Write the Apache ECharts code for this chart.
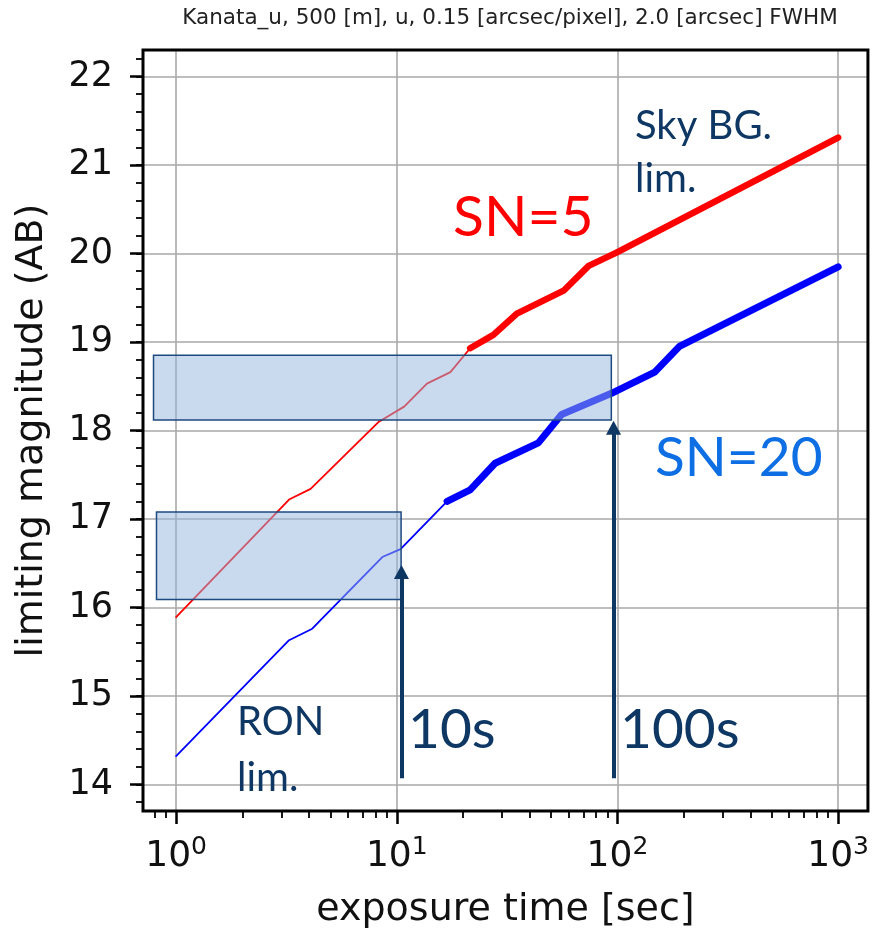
<!DOCTYPE html>
<html>
<head>
<meta charset="utf-8">
<script src="https://cdn.jsdelivr.net/npm/echarts@6/dist/echarts.min.js"></script>
<style>
  html, body { margin: 0; padding: 0; background: #ffffff; }
  #chart { width: 872px; height: 934px; }
</style>
</head>
<body>
<div id="chart"></div>
<script>
// Limiting magnitude vs exposure time, Kanata u-band.
// SN=5 curve: read-noise limited part (thin) and sky-background limited part (thick)
const sn5ThinTime  = [1, 3.25, 4.07, 8.3, 10.8, 13.7, 17.5, 21.5];
const sn5ThinMag   = [15.89, 17.22, 17.34, 18.10, 18.27, 18.53, 18.66, 18.93];
const sn5ThickTime = [21.5, 27.4, 35, 57, 74, 99, 1000];
const sn5ThickMag  = [18.93, 19.08, 19.32, 19.58, 19.86, 20.01, 21.31];

// SN=20 curve
const sn20ThinTime  = [1, 3.25, 4.14, 8.6, 10.4, 16.9];
const sn20ThinMag   = [14.32, 15.63, 15.76, 16.57, 16.66, 17.20];
const sn20ThickTime = [16.9, 21.5, 27.9, 43.8, 55.8, 94, 147.5, 191, 1000];
const sn20ThickMag  = [17.20, 17.33, 17.63, 17.86, 18.18, 18.42, 18.66, 18.95, 19.85];

// highlighted bands [[t0, m0], [t1, m1]]
const bandRON = [[0.815, 16.09], [10.46, 17.08]];
const bandSky = [[0.79, 18.12], [93.8, 18.85]];

// arrows marking 10 s and 100 s exposures
const arrowTimes = [10.5, 96];
const arrowFrom  = [14.07, 14.07];
const arrowTo    = [16.40, 18.03];

// axis tick positions
const xDecades   = [0, 1, 2, 3];
const yMajor     = [14, 15, 16, 17, 18, 19, 20, 21, 22];
const xMinorTicks = [];
[0.1, 1, 10, 100].forEach(function (d) {
  for (let k = 2; k <= 9; k++) {
    const v = k * d;
    if (v > 0.7) xMinorTicks.push(Math.log10(v));
  }
});
const yMinorTicks = [];
for (let i = 69; i <= 111; i++) yMinorTicks.push(+(i * 0.2).toFixed(1));

const LOG_MIN = -0.15, LOG_MAX = 3.135;
const Y_MIN = 13.7, Y_MAX = 22.3;

const navy = '#0f3764';
const lato = 'Lato, "Open Sans", sans-serif';
const dejavu = '"DejaVu Sans", sans-serif';

function pairs(xs, ys) { return xs.map(function (x, i) { return [x, ys[i]]; }); }

function curve(name, xs, ys, color, width) {
  return {
    name: name, type: 'line', xAxisIndex: 0, yAxisIndex: 0,
    data: pairs(xs, ys), showSymbol: false, symbol: 'none',
    lineStyle: { color: color, width: width, cap: 'round', join: 'round' },
    z: 2, silent: true, animation: false
  };
}

function tickAxis(values, len, width, pos) {
  return {
    type: 'value', min: pos === 'bottom' ? LOG_MIN : Y_MIN, max: pos === 'bottom' ? LOG_MAX : Y_MAX,
    position: pos,
    axisLine: { show: false, onZero: false }, axisLabel: { show: false }, splitLine: { show: false },
    axisTick: { show: true, customValues: values, length: len, lineStyle: { color: '#000', width: width } }
  };
}

const chart = echarts.init(document.getElementById('chart'), null, { renderer: 'canvas' });

chart.setOption({
  animation: false,
  backgroundColor: '#ffffff',
  grid: {
    left: 143, right: 2, top: 50, bottom: 119,
    show: true, z: 3, borderColor: '#000000', borderWidth: 3,
    backgroundColor: 'transparent'
  },
  xAxis: [
    {
      type: 'log', logBase: 10,
      min: Math.pow(10, LOG_MIN), max: Math.pow(10, LOG_MAX),
      axisLine: { show: false, onZero: false },
      axisTick: { show: false },
      splitLine: { show: true, lineStyle: { color: '#a9a9a9', width: 1.6 } },
      axisLabel: {
        showMinLabel: false, showMaxLabel: false, margin: 24,
        formatter: function (v) {
          return '{b|10}{s|' + Math.round(Math.log10(v)) + '}';
        },
        rich: {
          b: { fontFamily: dejavu, fontSize: 36, color: '#111', lineHeight: 40, verticalAlign: 'bottom' },
          s: { fontFamily: dejavu, fontSize: 25, color: '#111', lineHeight: 18, verticalAlign: 'top' }
        }
      },
      name: 'exposure time [sec]', nameLocation: 'middle', nameGap: 80,
      nameTextStyle: { fontFamily: dejavu, fontSize: 38, color: '#111' }
    },
    tickAxis(xDecades, 13, 2.5, 'bottom'),
    tickAxis(xMinorTicks, 7, 1.8, 'bottom')
  ],
  yAxis: [
    {
      type: 'value', min: Y_MIN, max: Y_MAX,
      axisLine: { show: false, onZero: false },
      axisTick: { show: true, customValues: yMajor, length: 13, lineStyle: { color: '#000', width: 2.5 } },
      splitLine: { show: true, lineStyle: { color: '#a9a9a9', width: 1.6 } },
      axisLabel: {
        customValues: yMajor, margin: 30,
        fontFamily: dejavu, fontSize: 35, color: '#111'
      },
      name: 'limiting magnitude (AB)', nameLocation: 'middle', nameGap: 92, nameRotate: 90,
      nameTextStyle: { fontFamily: dejavu, fontSize: 38, color: '#111' }
    },
    tickAxis(yMinorTicks, 7, 1.8, 'left')
  ],
  series: [
    curve('SN=5', sn5ThinTime, sn5ThinMag, '#ff0000', 1.8),
    curve('SN=5 sky', sn5ThickTime, sn5ThickMag, '#ff0000', 6.5),
    curve('SN=20', sn20ThinTime, sn20ThinMag, '#0000ff', 1.8),
    curve('SN=20 sky', sn20ThickTime, sn20ThickMag, '#0000ff', 7),
    {
      name: 'bands', type: 'line', data: [], silent: true,
      markArea: {
        silent: true, z: 5,
        itemStyle: {
          color: 'rgba(150,181,221,0.5)', borderColor: '#1d4a80', borderWidth: 1.5
        },
        data: [
          [{ coord: bandSky[0] }, { coord: bandSky[1] }],
          [{ coord: bandRON[0] }, { coord: bandRON[1] }]
        ]
      },
      markLine: {
        silent: true, z: 6,
        symbol: ['none', 'triangle'], symbolSize: [15, 14],
        label: { show: false },
        lineStyle: { color: navy, width: 4, type: 'solid' },
        data: arrowTimes.map(function (t, i) {
          return [{ coord: [t, arrowFrom[i]] }, { coord: [t, arrowTo[i]] }];
        })
      }
    }
  ],
  graphic: [
    { type: 'text', x: 510, y: 18, z: 100,
      style: { text: 'Kanata_u, 500 [m], u, 0.15 [arcsec/pixel], 2.0 [arcsec] FWHM',
               font: '21.5px ' + dejavu, fill: '#222', textAlign: 'center', textVerticalAlign: 'middle' } },
    { type: 'text', x: 453, y: 218, z: 100,
      style: { text: 'SN=5', font: '57px ' + lato, fill: '#ff0000', textVerticalAlign: 'middle' } },
    { type: 'text', x: 655, y: 458, z: 100,
      style: { text: 'SN=20', font: '55px ' + lato, fill: '#0d6fe3', textVerticalAlign: 'middle' } },
    { type: 'text', x: 635, y: 126, z: 100,
      style: { text: 'Sky BG.', font: '40px ' + lato, fill: navy, textVerticalAlign: 'middle' } },
    { type: 'text', x: 635, y: 179, z: 100,
      style: { text: 'lim.', font: '40px ' + lato, fill: navy, textVerticalAlign: 'middle' } },
    { type: 'text', x: 237, y: 722, z: 100,
      style: { text: 'RON', font: '40px ' + lato, fill: navy, textVerticalAlign: 'middle' } },
    { type: 'text', x: 237, y: 778, z: 100,
      style: { text: 'lim.', font: '40px ' + lato, fill: navy, textVerticalAlign: 'middle' } },
    { type: 'text', x: 408, y: 730, z: 100,
      style: { text: '10s', font: '55px ' + lato, fill: navy, textVerticalAlign: 'middle' } },
    { type: 'text', x: 620, y: 730, z: 100,
      style: { text: '100s', font: '55px ' + lato, fill: navy, textVerticalAlign: 'middle' } }
  ]
});
</script>
</body>
</html>
